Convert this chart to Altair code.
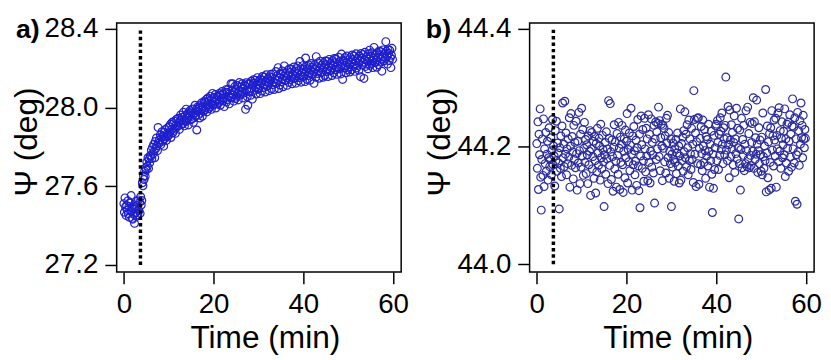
import altair as alt
import pandas as pd

# ---------------- data ----------------
t_step = 0.125          # sampling interval, minutes (8 samples per minute)
marker_time = 3.7       # dotted line position, minutes

# Panel a: Psi (deg), one row per minute, 8 samples per row
psi_a_00_19 = [
    [27.512, 27.468, 27.541, 27.495, 27.452, 27.503, 27.478, 27.526],
    [27.461, 27.497, 27.442, 27.518, 27.474, 27.553, 27.489, 27.437],
    [27.433, 27.486, 27.458, 27.412, 27.497, 27.465, 27.524, 27.448],
    [27.502, 27.455, 27.531, 27.476, 27.518, 27.462, 27.547, 27.505],
    [27.528, 27.618, 27.603, 27.652, 27.634, 27.676, 27.651, 27.695],
    [27.683, 27.724, 27.702, 27.745, 27.691, 27.738, 27.719, 27.756],
    [27.752, 27.784, 27.741, 27.798, 27.766, 27.812, 27.779, 27.745],
    [27.828, 27.792, 27.845, 27.806, 27.781, 27.899, 27.817, 27.834],
    [27.823, 27.861, 27.812, 27.848, 27.877, 27.829, 27.856, 27.804],
    [27.874, 27.842, 27.889, 27.851, 27.833, 27.868, 27.897, 27.855],
    [27.862, 27.903, 27.874, 27.915, 27.848, 27.889, 27.925, 27.871],
    [27.918, 27.884, 27.931, 27.895, 27.869, 27.912, 27.941, 27.903],
    [27.905, 27.946, 27.921, 27.889, 27.934, 27.962, 27.913, 27.938],
    [27.951, 27.918, 27.976, 27.934, 27.907, 27.958, 27.929, 27.992],
    [27.933, 27.968, 27.945, 27.912, 27.974, 27.957, 27.985, 27.938],
    [27.978, 27.941, 27.993, 27.962, 27.925, 27.971, 27.949, 28.012],
    [27.958, 27.991, 27.886, 27.982, 28.004, 27.963, 27.995, 27.947],
    [28.011, 27.972, 28.023, 27.988, 27.956, 28.002, 27.981, 28.031],
    [27.987, 28.026, 28.001, 28.042, 27.978, 28.015, 28.049, 27.994],
    [28.035, 28.003, 28.058, 28.021, 27.991, 28.044, 28.072, 28.012],
]
psi_a_20_39 = [
    [28.014, 28.051, 28.027, 28.066, 27.998, 28.039, 28.019, 28.058],
    [28.056, 28.023, 28.071, 28.037, 28.012, 28.064, 28.043, 28.082],
    [28.034, 28.069, 28.047, 28.005, 28.076, 28.052, 28.091, 28.028],
    [28.078, 28.041, 28.093, 28.057, 28.019, 28.072, 28.048, 28.121],
    [28.052, 28.089, 28.121, 28.064, 28.033, 28.079, 28.108, 28.046],
    [28.093, 28.058, 28.112, 28.071, 28.039, 28.084, 28.127, 28.062],
    [28.068, 28.104, 28.081, 28.121, 28.049, 28.097, 28.074, 28.115],
    [28.108, 27.991, 28.126, 28.087, 28.056, 28.012, 28.119, 28.081],
    [28.085, 28.121, 28.062, 28.134, 28.097, 28.043, 28.115, 28.142],
    [28.124, 28.088, 28.139, 28.101, 28.069, 28.117, 28.152, 28.093],
    [28.098, 28.136, 28.112, 28.071, 28.143, 28.126, 28.084, 28.158],
    [28.139, 28.102, 28.155, 28.118, 28.079, 28.131, 28.167, 28.109],
    [28.112, 28.148, 28.125, 28.086, 28.157, 28.134, 28.169, 28.095],
    [28.152, 28.117, 28.171, 28.131, 28.092, 28.146, 28.124, 28.183],
    [28.123, 28.161, 28.138, 28.203, 28.097, 28.152, 28.115, 28.174],
    [28.168, 28.131, 28.186, 28.145, 28.106, 28.159, 28.212, 28.137],
    [28.139, 28.176, 28.151, 28.113, 28.189, 28.162, 28.128, 28.197],
    [28.178, 28.142, 28.195, 28.157, 28.121, 28.169, 28.147, 28.206],
    [28.148, 28.186, 28.161, 28.124, 28.198, 28.173, 28.212, 28.137],
    [28.188, 28.152, 28.234, 28.166, 28.129, 28.181, 28.158, 28.213],
]
psi_a_40_59 = [
    [28.158, 28.195, 28.171, 28.132, 28.252, 28.184, 28.143, 28.209],
    [28.197, 28.163, 28.216, 28.176, 28.139, 28.191, 28.224, 28.168],
    [28.169, 28.206, 28.181, 28.123, 28.218, 28.194, 28.154, 28.259],
    [28.208, 28.173, 28.227, 28.186, 28.149, 28.201, 28.236, 28.178],
    [28.179, 28.216, 28.192, 28.154, 28.228, 28.203, 28.163, 28.237],
    [28.218, 28.183, 28.236, 28.196, 28.158, 28.211, 28.245, 28.187],
    [28.189, 28.226, 28.201, 28.163, 28.238, 28.214, 28.176, 28.249],
    [28.228, 28.192, 28.247, 28.207, 28.169, 28.221, 28.199, 28.256],
    [28.196, 28.234, 28.209, 28.171, 28.272, 28.218, 28.143, 28.241],
    [28.236, 28.201, 28.254, 28.214, 28.177, 28.229, 28.262, 28.193],
    [28.205, 28.243, 28.219, 28.181, 28.255, 28.231, 28.192, 28.267],
    [28.244, 28.209, 28.262, 28.221, 28.184, 28.236, 28.273, 28.201],
    [28.213, 28.251, 28.227, 28.189, 28.262, 28.238, 28.157, 28.275],
    [28.252, 28.216, 28.269, 28.231, 28.148, 28.244, 28.281, 28.209],
    [28.221, 28.259, 28.236, 28.197, 28.271, 28.247, 28.292, 28.215],
    [28.261, 28.224, 28.279, 28.238, 28.203, 28.253, 28.306, 28.229],
    [28.229, 28.268, 28.243, 28.205, 28.279, 28.254, 28.218, 28.287],
    [28.268, 28.231, 28.284, 28.246, 28.185, 28.259, 28.293, 28.238],
    [28.236, 28.275, 28.251, 28.335, 28.286, 28.262, 28.221, 28.294],
    [28.276, 28.239, 28.292, 28.254, 28.203, 28.266, 28.301, 28.245],
]

# Panel b: Psi (deg), one row per minute, 8 samples per row
psi_b_00_19 = [
    [44.205, 44.163, 44.242, 44.127, 44.221, 44.186, 44.264, 44.148],
    [44.092, 44.178, 44.213, 44.151, 44.247, 44.132, 44.196, 44.171],
    [44.224, 44.158, 44.187, 44.209, 44.143, 44.181, 44.232, 44.166],
    [44.178, 44.215, 44.152, 44.193, 44.246, 44.169, 44.201, 44.184],
    [44.133, 44.227, 44.176, 44.243, 44.158, 44.206, 44.189, 44.172],
    [44.094, 44.198, 44.163, 44.218, 44.149, 44.235, 44.274, 44.181],
    [44.204, 44.166, 44.277, 44.187, 44.223, 44.152, 44.196, 44.171],
    [44.213, 44.182, 44.249, 44.131, 44.201, 44.256, 44.168, 44.217],
    [44.191, 44.145, 44.236, 44.178, 44.207, 44.164, 44.243, 44.188],
    [44.126, 44.209, 44.172, 44.258, 44.193, 44.137, 44.221, 44.165],
    [44.265, 44.184, 44.229, 44.151, 44.197, 44.241, 44.173, 44.212],
    [44.154, 44.203, 44.186, 44.137, 44.218, 44.169, 44.192, 44.227],
    [44.117, 44.196, 44.224, 44.162, 44.183, 44.209, 44.146, 44.217],
    [44.176, 44.121, 44.205, 44.157, 44.231, 44.189, 44.168, 44.214],
    [44.201, 44.143, 44.238, 44.181, 44.162, 44.219, 44.195, 44.174],
    [44.098, 44.186, 44.207, 44.153, 44.225, 44.179, 44.196, 44.137],
    [44.278, 44.214, 44.168, 44.273, 44.191, 44.144, 44.211, 44.183],
    [44.124, 44.199, 44.237, 44.162, 44.208, 44.175, 44.131, 44.222],
    [44.185, 44.153, 44.241, 44.197, 44.127, 44.216, 44.173, 44.204],
    [44.236, 44.169, 44.122, 44.192, 44.213, 44.147, 44.228, 44.181],
]
psi_b_20_39 = [
    [44.209, 44.256, 44.138, 44.195, 44.174, 44.223, 44.159, 44.202],
    [44.265, 44.187, 44.126, 44.218, 44.169, 44.234, 44.193, 44.152],
    [44.175, 44.211, 44.134, 44.198, 44.246, 44.167, 44.125, 44.221],
    [44.096, 44.184, 44.252, 44.203, 44.163, 44.229, 44.176, 44.141],
    [44.248, 44.196, 44.157, 44.231, 44.184, 44.213, 44.142, 44.254],
    [44.173, 44.221, 44.138, 44.192, 44.247, 44.165, 44.207, 44.186],
    [44.155, 44.236, 44.104, 44.213, 44.242, 44.178, 44.225, 44.196],
    [44.239, 44.267, 44.183, 44.244, 44.159, 44.215, 44.238, 44.201],
    [44.142, 44.236, 44.197, 44.231, 44.174, 44.218, 44.155, 44.248],
    [44.206, 44.253, 44.181, 44.224, 44.146, 44.192, 44.171, 44.213],
    [44.098, 44.187, 44.165, 44.206, 44.178, 44.141, 44.196, 44.173],
    [44.212, 44.154, 44.189, 44.223, 44.167, 44.201, 44.138, 44.184],
    [44.264, 44.143, 44.205, 44.176, 44.216, 44.158, 44.227, 44.191],
    [44.259, 44.181, 44.221, 44.166, 44.237, 44.198, 44.152, 44.245],
    [44.176, 44.213, 44.188, 44.161, 44.231, 44.178, 44.204, 44.139],
    [44.295, 44.246, 44.187, 44.223, 44.132, 44.208, 44.248, 44.171],
    [44.249, 44.136, 44.197, 44.214, 44.169, 44.234, 44.188, 44.159],
    [44.245, 44.201, 44.173, 44.229, 44.193, 44.146, 44.217, 44.184],
    [44.212, 44.167, 44.238, 44.192, 44.131, 44.204, 44.176, 44.226],
    [44.153, 44.088, 44.187, 44.129, 44.219, 44.161, 44.198, 44.235],
]
psi_b_40_59 = [
    [44.238, 44.176, 44.244, 44.207, 44.161, 44.221, 44.185, 44.249],
    [44.226, 44.195, 44.257, 44.204, 44.171, 44.232, 44.213, 44.186],
    [44.236, 44.318, 44.194, 44.215, 44.176, 44.268, 44.203, 44.147],
    [44.262, 44.211, 44.183, 44.237, 44.196, 44.224, 44.169, 44.207],
    [44.252, 44.156, 44.213, 44.188, 44.265, 44.179, 44.231, 44.198],
    [44.077, 44.171, 44.228, 44.126, 44.195, 44.248, 44.164, 44.212],
    [44.185, 44.236, 44.159, 44.204, 44.171, 44.261, 44.193, 44.166],
    [44.267, 44.179, 44.222, 44.164, 44.241, 44.185, 44.168, 44.207],
    [44.239, 44.192, 44.283, 44.163, 44.242, 44.178, 44.215, 44.187],
    [44.279, 44.204, 44.156, 44.193, 44.232, 44.171, 44.211, 44.186],
    [44.158, 44.216, 44.152, 44.257, 44.183, 44.163, 44.201, 44.176],
    [44.297, 44.123, 44.189, 44.235, 44.147, 44.208, 44.126, 44.222],
    [44.173, 44.232, 44.129, 44.261, 44.194, 44.218, 44.167, 44.245],
    [44.211, 44.184, 44.248, 44.131, 44.219, 44.196, 44.257, 44.174],
    [44.266, 44.192, 44.227, 44.163, 44.214, 44.242, 44.181, 44.203],
    [44.226, 44.186, 44.264, 44.149, 44.213, 44.172, 44.238, 44.197],
    [44.241, 44.158, 44.209, 44.254, 44.182, 44.221, 44.165, 44.235],
    [44.281, 44.196, 44.233, 44.172, 44.249, 44.107, 44.213, 44.186],
    [44.102, 44.258, 44.191, 44.227, 44.168, 44.244, 44.204, 44.274],
    [44.215, 44.236, 44.181, 44.253, 44.213, 44.198, 44.229, 44.214],
]

x_ticks = [0, 20, 40, 60]
y_ticks_a = [27.2, 27.6, 28.0, 28.4]
y_ticks_b = [44.0, 44.2, 44.4]
panel_labels = ["a)", "b)"]


def to_frame(*blocks):
    vals = [v for block in blocks for row in block for v in row]
    return pd.DataFrame({"t": [i * t_step for i in range(len(vals))], "psi": vals})


df_a = to_frame(psi_a_00_19, psi_a_20_39, psi_a_40_59)
df_b = to_frame(psi_b_00_19, psi_b_20_39, psi_b_40_59)

FONT = "Liberation Sans"
W, H = 288, 252


def panel(df, color, ydomain, yticks, label, label_dx):
    xs = alt.Scale(domain=[-1.6, 61.8], nice=False, zero=False)
    ys = alt.Scale(domain=ydomain, nice=False, zero=False)
    xax = alt.Axis(values=x_ticks, format="d", title="Time (min)", labelFlush=False,
                   titleX=150, titleY=77, titleBaseline="alphabetic", labelPadding=7)
    yax = alt.Axis(values=yticks, format=".1f", title="Ψ (deg)", labelFlush=False,
                   titleX=-81, titleY=120, titleBaseline="alphabetic", labelPadding=7)
    pts = alt.Chart(df).mark_point(shape="circle", filled=False, size=62,
                                   strokeWidth=1.2, opacity=1, color=color).encode(
        x=alt.X("t:Q", scale=xs, axis=xax),
        y=alt.Y("psi:Q", scale=ys, axis=yax),
    )
    rule_df = pd.DataFrame({"t": [marker_time], "y0": [yticks[0]], "y1": [yticks[-1]]})
    rule = alt.Chart(rule_df).mark_rule(color="black", strokeWidth=3.5, strokeDash=[3.5, 3]).encode(
        x=alt.X("t:Q", scale=xs), y=alt.Y("y0:Q", scale=ys), y2="y1:Q")
    txt = alt.Chart(pd.DataFrame({"lab": [label]})).mark_text(
        align="left", baseline="alphabetic", fontSize=27, fontWeight="bold",
        font=FONT, color="black").encode(
        text="lab:N", x=alt.value(label_dx), y=alt.value(15))
    return alt.layer(pts, rule, txt).properties(width=W, height=H)


pa = panel(df_a, "#1f1fcc", [27.165, 28.43], y_ticks_a, panel_labels[0], -102)
pb = panel(df_b, "#2b2b9c", [43.987, 44.41], y_ticks_b, panel_labels[1], -105)

chart = alt.hconcat(pa, pb, spacing=130, bounds="flush").properties(
    padding={"left": 2, "top": 4, "right": 0, "bottom": 0},
    background="white",
).configure_view(stroke="black", strokeWidth=1.5).configure_axis(
    domain=False, grid=False, tickColor="black", tickSize=12, tickWidth=1.5,
    labelFont=FONT, labelFontSize=28, labelColor="black",
    titleFont=FONT, titleFontSize=32, titleFontWeight="normal", titleColor="black",
)

chart.save("out.html", embed_options={"renderer": "svg", "actions": False})
